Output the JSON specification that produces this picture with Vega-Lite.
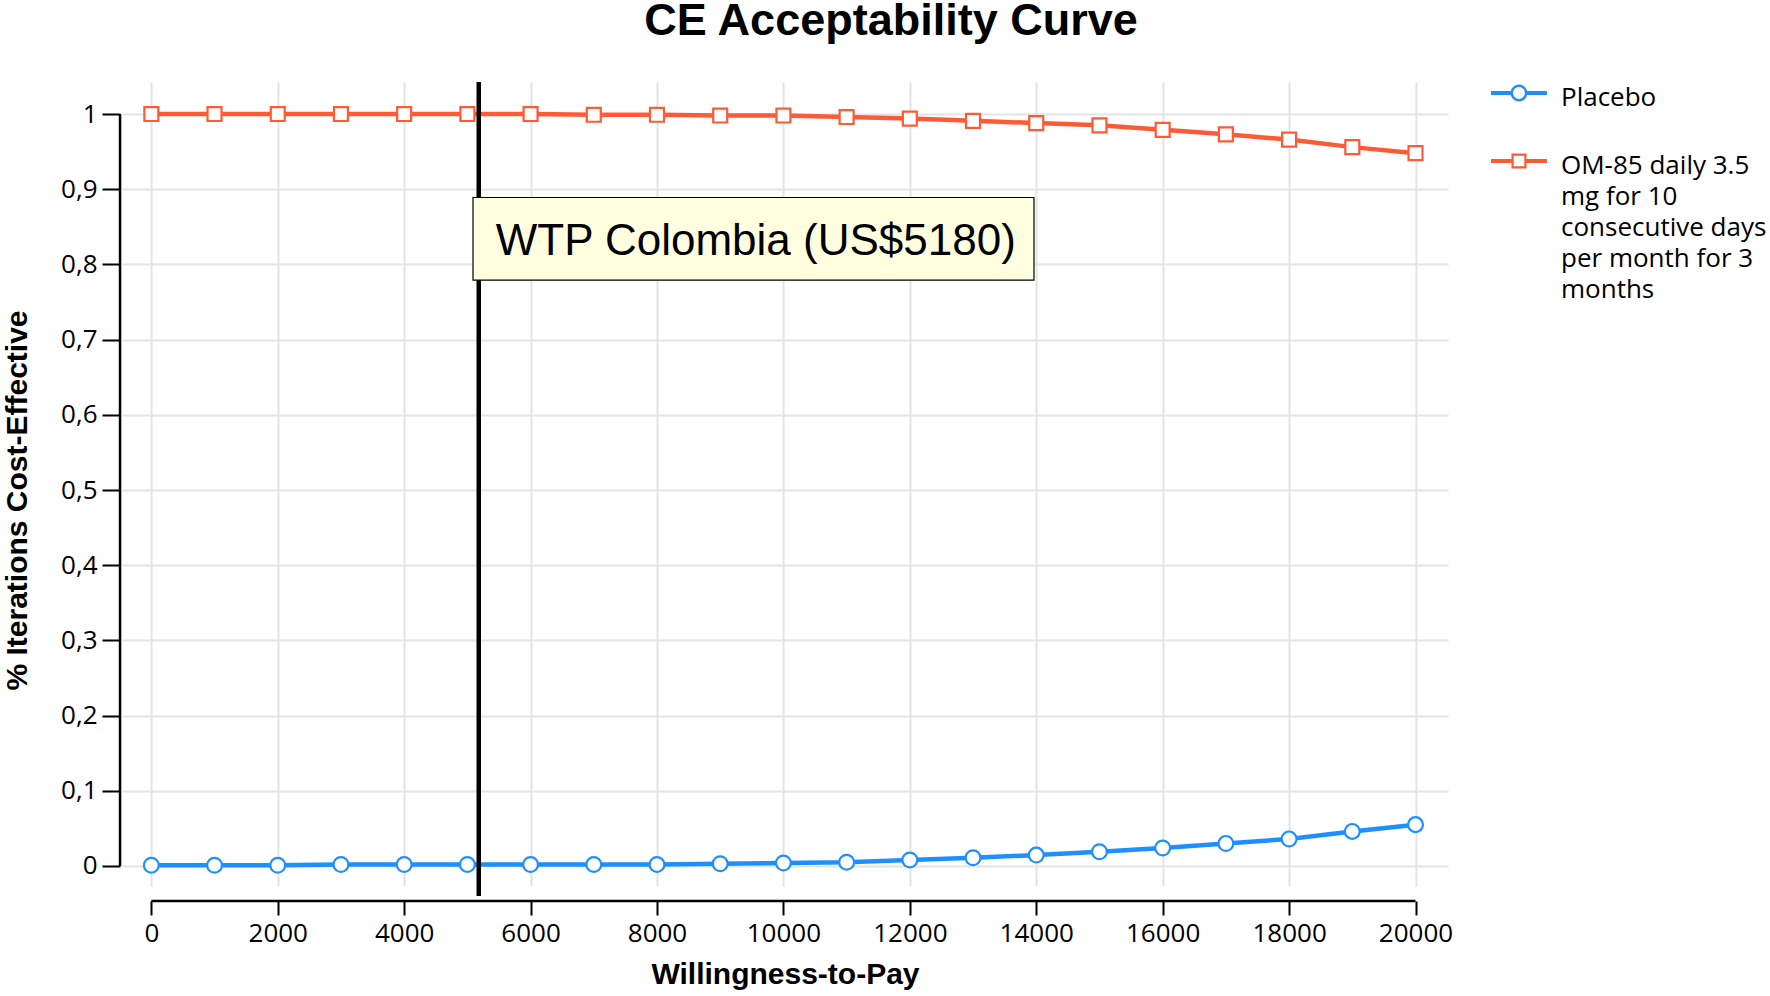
{
  "$schema": "https://vega.github.io/schema/vega-lite/v6.json",
  "width": 1326,
  "height": 804,
  "autosize": "none",
  "padding": {"left": 122, "top": 82, "right": 322, "bottom": 110},
  "background": "white",
  "title": {
    "text": "CE Acceptability Curve",
    "font": "Liberation Sans",
    "fontSize": 45,
    "fontWeight": "bold",
    "color": "black",
    "anchor": "middle",
    "frame": "group",
    "dx": 106,
    "offset": 21
  },
  "config": {
    "view": {"stroke": null},
    "axis": {
      "labelFont": "Open Sans",
      "labelFontSize": 26,
      "labelColor": "black",
      "tickColor": "black",
      "tickWidth": 2,
      "domain": false,
      "grid": true,
      "gridColor": "#e4e4e4",
      "gridWidth": 2,
      "titleFont": "Liberation Sans",
      "titleFontSize": 30,
      "titleFontWeight": "bold",
      "titleColor": "black"
    },
    "legend": {
      "title": null,
      "orient": "none",
      "legendX": 1369,
      "legendY": -17,
      "padding": 0,
      "labelFont": "Open Sans",
      "labelFontSize": 26,
      "labelColor": "black",
      "labelLimit": 400,
      "labelOffset": 14,
      "labelBaseline": "top",
      "rowPadding": 22,
      "symbolSize": 3136
    }
  },
  "datasets": {
    "curves": [
      {"wtp": 0, "series": "Placebo", "p": 0.001},
      {"wtp": 1000, "series": "Placebo", "p": 0.001},
      {"wtp": 2000, "series": "Placebo", "p": 0.001},
      {"wtp": 3000, "series": "Placebo", "p": 0.002},
      {"wtp": 4000, "series": "Placebo", "p": 0.002},
      {"wtp": 5000, "series": "Placebo", "p": 0.002},
      {"wtp": 6000, "series": "Placebo", "p": 0.002},
      {"wtp": 7000, "series": "Placebo", "p": 0.002},
      {"wtp": 8000, "series": "Placebo", "p": 0.002},
      {"wtp": 9000, "series": "Placebo", "p": 0.003},
      {"wtp": 10000, "series": "Placebo", "p": 0.004},
      {"wtp": 11000, "series": "Placebo", "p": 0.005},
      {"wtp": 12000, "series": "Placebo", "p": 0.008},
      {"wtp": 13000, "series": "Placebo", "p": 0.011},
      {"wtp": 14000, "series": "Placebo", "p": 0.0145},
      {"wtp": 15000, "series": "Placebo", "p": 0.019},
      {"wtp": 16000, "series": "Placebo", "p": 0.024},
      {"wtp": 17000, "series": "Placebo", "p": 0.030},
      {"wtp": 18000, "series": "Placebo", "p": 0.036},
      {"wtp": 19000, "series": "Placebo", "p": 0.046},
      {"wtp": 20000, "series": "Placebo", "p": 0.055},
      {"wtp": 0, "series": "OM-85 daily 3.5 mg for 10 consecutive days per month for 3 months", "p": 1.0},
      {"wtp": 1000, "series": "OM-85 daily 3.5 mg for 10 consecutive days per month for 3 months", "p": 1.0},
      {"wtp": 2000, "series": "OM-85 daily 3.5 mg for 10 consecutive days per month for 3 months", "p": 1.0},
      {"wtp": 3000, "series": "OM-85 daily 3.5 mg for 10 consecutive days per month for 3 months", "p": 1.0},
      {"wtp": 4000, "series": "OM-85 daily 3.5 mg for 10 consecutive days per month for 3 months", "p": 1.0},
      {"wtp": 5000, "series": "OM-85 daily 3.5 mg for 10 consecutive days per month for 3 months", "p": 1.0},
      {"wtp": 6000, "series": "OM-85 daily 3.5 mg for 10 consecutive days per month for 3 months", "p": 1.0},
      {"wtp": 7000, "series": "OM-85 daily 3.5 mg for 10 consecutive days per month for 3 months", "p": 0.999},
      {"wtp": 8000, "series": "OM-85 daily 3.5 mg for 10 consecutive days per month for 3 months", "p": 0.999},
      {"wtp": 9000, "series": "OM-85 daily 3.5 mg for 10 consecutive days per month for 3 months", "p": 0.998},
      {"wtp": 10000, "series": "OM-85 daily 3.5 mg for 10 consecutive days per month for 3 months", "p": 0.998},
      {"wtp": 11000, "series": "OM-85 daily 3.5 mg for 10 consecutive days per month for 3 months", "p": 0.996},
      {"wtp": 12000, "series": "OM-85 daily 3.5 mg for 10 consecutive days per month for 3 months", "p": 0.994},
      {"wtp": 13000, "series": "OM-85 daily 3.5 mg for 10 consecutive days per month for 3 months", "p": 0.991},
      {"wtp": 14000, "series": "OM-85 daily 3.5 mg for 10 consecutive days per month for 3 months", "p": 0.988},
      {"wtp": 15000, "series": "OM-85 daily 3.5 mg for 10 consecutive days per month for 3 months", "p": 0.985},
      {"wtp": 16000, "series": "OM-85 daily 3.5 mg for 10 consecutive days per month for 3 months", "p": 0.979},
      {"wtp": 17000, "series": "OM-85 daily 3.5 mg for 10 consecutive days per month for 3 months", "p": 0.973},
      {"wtp": 18000, "series": "OM-85 daily 3.5 mg for 10 consecutive days per month for 3 months", "p": 0.966},
      {"wtp": 19000, "series": "OM-85 daily 3.5 mg for 10 consecutive days per month for 3 months", "p": 0.956},
      {"wtp": 20000, "series": "OM-85 daily 3.5 mg for 10 consecutive days per month for 3 months", "p": 0.948}
    ],
    "annotation": [{"label": "WTP Colombia (US$5180)"}]
  },
  "layer": [
    {
      "data": {"name": "curves"},
      "mark": {"type": "line", "strokeWidth": 4.5},
      "encoding": {
        "x": {
          "field": "wtp",
          "type": "quantitative",
          "scale": {"domain": [-464, 20514], "nice": false, "zero": false},
          "axis": {
            "title": "Willingness-to-Pay",
            "values": [0, 2000, 4000, 6000, 8000, 10000, 12000, 14000, 16000, 18000, 20000],
            "format": "d",
            "offset": 15,
            "tickSize": 14,
            "labelPadding": 5,
            "titlePadding": 13
          }
        },
        "y": {
          "field": "p",
          "type": "quantitative",
          "scale": {"domain": [-0.0266, 1.0426], "nice": false, "zero": false},
          "axis": {
            "title": "% Iterations Cost-Effective",
            "values": [0, 0.1, 0.2, 0.3, 0.4, 0.5, 0.6, 0.7, 0.8, 0.9, 1],
            "labelExpr": "replace(format(datum.value, '.1~f'), '.', ',')",
            "offset": 2,
            "tickSize": 18,
            "labelPadding": 5,
            "titleX": -88,
            "titleY": 418
          }
        },
        "color": {
          "field": "series",
          "type": "nominal",
          "scale": {
            "domain": ["Placebo", "OM-85 daily 3.5 mg for 10 consecutive days per month for 3 months"],
            "range": ["#1e8fff", "#ff5a36"]
          },
          "legend": {
            "labelExpr": "datum.label == 'Placebo' ? 'Placebo' : ['OM-85 daily 3.5', 'mg for 10', 'consecutive days', 'per month for 3', 'months']",
            "encoding": {
              "labels": {"lineHeight": {"value": 31}, "dy": {"value": -8}},
              "symbols": {
                "shape": {"value": {"expr": "datum.value == 'Placebo' ? 'M-1,-0.07H-0.28V0.07H-1Z M0.28,-0.07H1V0.07H0.28Z M-0.3,0A0.3,0.3,0,1,1,0.3,0A0.3,0.3,0,1,1,-0.3,0Z M-0.21,0A0.21,0.21,0,1,0,0.21,0A0.21,0.21,0,1,0,-0.21,0Z' : 'M-1,-0.07H-0.26V0.07H-1Z M0.26,-0.07H1V0.07H0.26Z M-0.27,-0.27H0.27V0.27H-0.27Z M-0.19,-0.19V0.19H0.19V-0.19Z'"}},
                "fill": {"value": {"expr": "datum.value == 'Placebo' ? '#1e8fff' : '#ff5a36'"}},
                "fillOpacity": {"value": 1},
                "opacity": {"value": 1},
                "strokeWidth": {"value": 0},
                "size": {"value": 3136}
              }
            }
          }
        }
      }
    },
    {
      "data": {"name": "curves"},
      "transform": [{"filter": "datum.series == 'Placebo'"}],
      "mark": {"type": "point", "shape": "circle", "filled": false, "fill": "white", "strokeWidth": 2.2, "size": 220, "opacity": 1},
      "encoding": {
        "x": {"field": "wtp", "type": "quantitative"},
        "y": {"field": "p", "type": "quantitative"},
        "color": {
          "field": "series",
          "type": "nominal",
          "legend": {
            "labelExpr": "datum.label == 'Placebo' ? 'Placebo' : ['OM-85 daily 3.5', 'mg for 10', 'consecutive days', 'per month for 3', 'months']",
            "encoding": {
              "labels": {"lineHeight": {"value": 31}, "dy": {"value": -8}},
              "symbols": {
                "shape": {"value": {"expr": "datum.value == 'Placebo' ? 'M-1,-0.07H-0.28V0.07H-1Z M0.28,-0.07H1V0.07H0.28Z M-0.3,0A0.3,0.3,0,1,1,0.3,0A0.3,0.3,0,1,1,-0.3,0Z M-0.21,0A0.21,0.21,0,1,0,0.21,0A0.21,0.21,0,1,0,-0.21,0Z' : 'M-1,-0.07H-0.26V0.07H-1Z M0.26,-0.07H1V0.07H0.26Z M-0.27,-0.27H0.27V0.27H-0.27Z M-0.19,-0.19V0.19H0.19V-0.19Z'"}},
                "fill": {"value": {"expr": "datum.value == 'Placebo' ? '#1e8fff' : '#ff5a36'"}},
                "fillOpacity": {"value": 1},
                "opacity": {"value": 1},
                "strokeWidth": {"value": 0},
                "size": {"value": 3136}
              }
            }
          }
        }
      }
    },
    {
      "data": {"name": "curves"},
      "transform": [{"filter": "datum.series != 'Placebo'"}],
      "mark": {"type": "point", "shape": "square", "filled": false, "fill": "white", "strokeWidth": 2.2, "size": 195, "opacity": 1},
      "encoding": {
        "x": {"field": "wtp", "type": "quantitative"},
        "y": {"field": "p", "type": "quantitative"},
        "color": {
          "field": "series",
          "type": "nominal",
          "legend": {
            "labelExpr": "datum.label == 'Placebo' ? 'Placebo' : ['OM-85 daily 3.5', 'mg for 10', 'consecutive days', 'per month for 3', 'months']",
            "encoding": {
              "labels": {"lineHeight": {"value": 31}, "dy": {"value": -8}},
              "symbols": {
                "shape": {"value": {"expr": "datum.value == 'Placebo' ? 'M-1,-0.07H-0.28V0.07H-1Z M0.28,-0.07H1V0.07H0.28Z M-0.3,0A0.3,0.3,0,1,1,0.3,0A0.3,0.3,0,1,1,-0.3,0Z M-0.21,0A0.21,0.21,0,1,0,0.21,0A0.21,0.21,0,1,0,-0.21,0Z' : 'M-1,-0.07H-0.26V0.07H-1Z M0.26,-0.07H1V0.07H0.26Z M-0.27,-0.27H0.27V0.27H-0.27Z M-0.19,-0.19V0.19H0.19V-0.19Z'"}},
                "fill": {"value": {"expr": "datum.value == 'Placebo' ? '#1e8fff' : '#ff5a36'"}},
                "fillOpacity": {"value": 1},
                "opacity": {"value": 1},
                "strokeWidth": {"value": 0},
                "size": {"value": 3136}
              }
            }
          }
        }
      }
    },
    {
      "data": {"name": "annotation"},
      "mark": {"type": "rule", "color": "black", "strokeWidth": 2.5},
      "encoding": {
        "x": {"datum": 0, "type": "quantitative"},
        "x2": {"datum": 20000},
        "y": {"datum": -0.0465, "type": "quantitative"}
      }
    },
    {
      "data": {"name": "annotation"},
      "mark": {"type": "rule", "color": "black", "strokeWidth": 2.5},
      "encoding": {
        "x": {"datum": -495, "type": "quantitative"},
        "y": {"datum": 0, "type": "quantitative"},
        "y2": {"datum": 1}
      }
    },
    {
      "data": {"name": "annotation"},
      "mark": {"type": "rule", "color": "black", "strokeWidth": 4.5},
      "encoding": {
        "x": {"datum": 5180, "type": "quantitative"},
        "y": {"datum": 1.0426, "type": "quantitative"},
        "y2": {"datum": -0.04}
      }
    },
    {
      "data": {"name": "annotation"},
      "mark": {"type": "rect", "fill": "#ffffe0", "stroke": "black", "strokeWidth": 1.2},
      "encoding": {
        "x": {"datum": 5089, "type": "quantitative"},
        "x2": {"datum": 13964},
        "y": {"datum": 0.889, "type": "quantitative"},
        "y2": {"datum": 0.779}
      }
    },
    {
      "data": {"name": "annotation"},
      "mark": {"type": "text", "font": "Liberation Sans", "fontSize": 44, "align": "left", "baseline": "alphabetic", "color": "black"},
      "encoding": {
        "x": {"datum": 5449, "type": "quantitative"},
        "y": {"datum": 0.8125, "type": "quantitative"},
        "text": {"field": "label", "type": "nominal"}
      }
    }
  ]
}
